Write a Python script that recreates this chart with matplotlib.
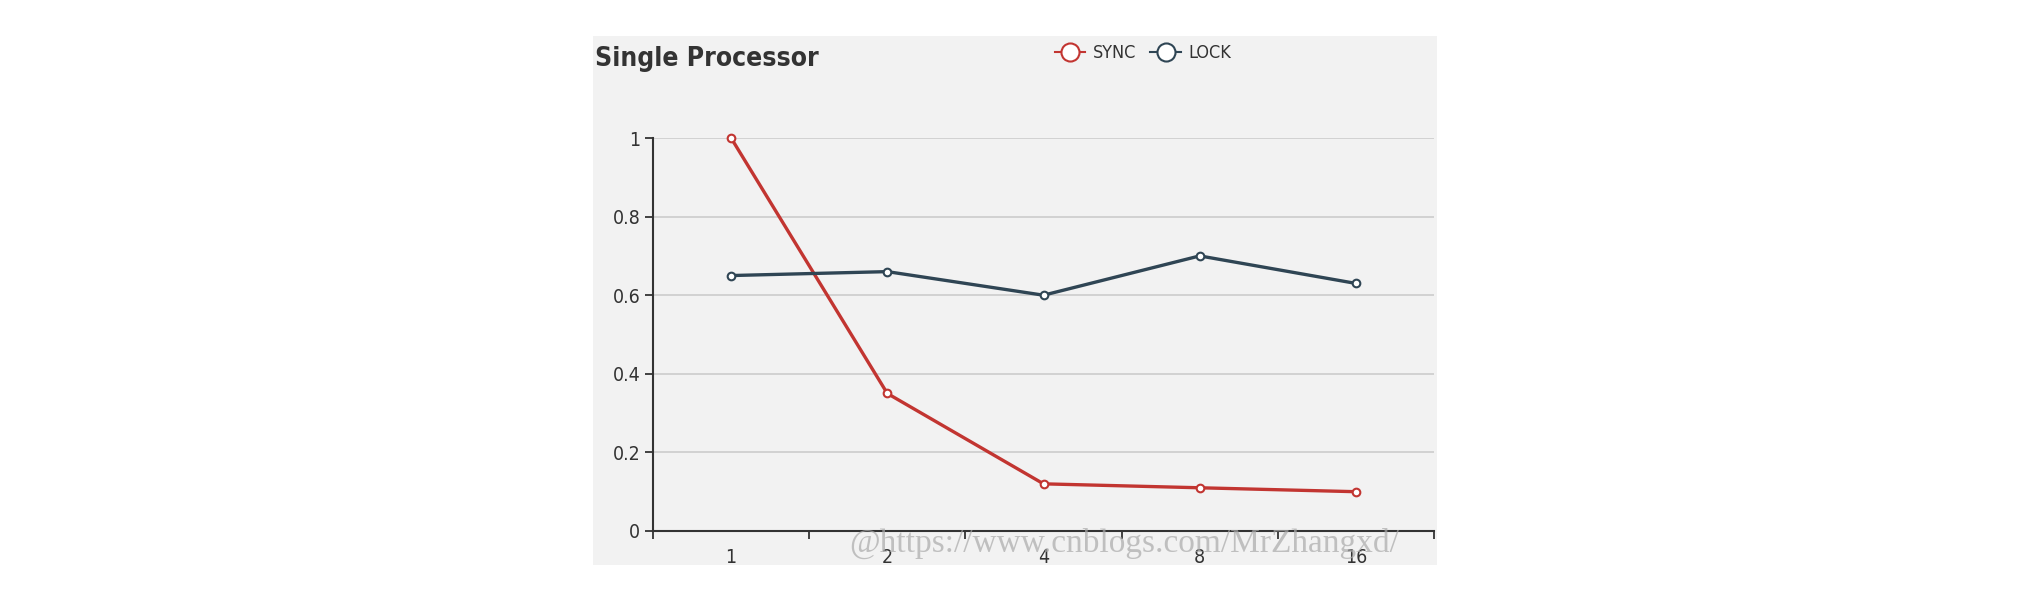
import matplotlib
matplotlib.use("Agg")
import matplotlib.pyplot as plt
from matplotlib.lines import Line2D

categories = ["1", "2", "4", "8", "16"]
sync_values = [1.0, 0.35, 0.12, 0.11, 0.10]
lock_values = [0.65, 0.66, 0.60, 0.70, 0.63]
y_ticks = [0, 0.2, 0.4, 0.6, 0.8, 1]
y_tick_labels = ["0", "0.2", "0.4", "0.6", "0.8", "1"]
title = "Single Processor"
watermark = "@https://www.cnblogs.com/MrZhangxd/"

W, H = 2036, 610
fig = plt.figure(figsize=(W / 100, H / 100), dpi=100)
fig.patch.set_facecolor("white")

FONT = dict(family="DejaVu Sans", stretch="condensed")

def fx(px):
    return px / W

def fy(py):
    return 1 - py / H

# panel background
bg = fig.add_axes([fx(593), fy(565), fx(1437) - fx(593), fy(36) - fy(565)], zorder=0)
bg.set_facecolor("#f2f2f2")
bg.set_xticks([]); bg.set_yticks([])
for s in bg.spines.values():
    s.set_visible(False)

ax = fig.add_axes([fx(653), fy(531), fx(1434) - fx(653), fy(138) - fy(531)], zorder=2)
ax.set_facecolor("none")
x = list(range(len(categories)))

sync_color = "#c23531"
lock_color = "#2f4554"

ax.plot(x, sync_values, color=sync_color, lw=2.4, marker="o", ms=5.5,
        mfc="white", mec=sync_color, mew=1.5, zorder=5, clip_on=False)
ax.plot(x, lock_values, color=lock_color, lw=2.4, marker="o", ms=5.5,
        mfc="white", mec=lock_color, mew=1.5, zorder=5, clip_on=False)

ax.set_xlim(-0.5, len(categories) - 0.5)
ax.set_ylim(0, 1)

ax.set_yticks(y_ticks)
ax.set_yticklabels(y_tick_labels)
for yv in y_ticks[1:]:
    ax.axhline(yv, color="#cccccc", lw=1.2, zorder=1)

ax.set_xticks([i - 0.5 for i in range(len(categories) + 1)])
ax.set_xticklabels([])
ax.set_xticks(x, minor=True)
ax.set_xticklabels(categories, minor=True)
ax.tick_params(axis="x", which="minor", length=0, pad=12, labelsize=14, colors="#333333")
ax.tick_params(axis="x", which="major", length=6, width=1.3, color="#333333", direction="out")
ax.tick_params(axis="y", length=6, width=1.3, color="#333333", direction="out",
               labelsize=14, labelcolor="#333333", pad=3)
for lab in ax.get_xticklabels(minor=True) + ax.get_yticklabels():
    lab.set_family(FONT["family"])
    lab.set_stretch(FONT["stretch"])

for s in ["top", "right"]:
    ax.spines[s].set_visible(False)
for s in ["left", "bottom"]:
    ax.spines[s].set_color("#333333")
    ax.spines[s].set_linewidth(1.5)

# title
fig.text(fx(595), fy(59), title, fontsize=19, fontweight="bold", color="#333333",
         family=FONT["family"], stretch=FONT["stretch"], ha="left", va="center", zorder=3)

# legend
handles = [
    Line2D([], [], color=sync_color, lw=1.5, marker="o", ms=13, mfc="white", mec=sync_color, mew=1.5),
    Line2D([], [], color=lock_color, lw=1.5, marker="o", ms=13, mfc="white", mec=lock_color, mew=1.5),
]
leg = fig.legend(handles, ["SYNC", "LOCK"], loc="center", bbox_to_anchor=(fx(1143), fy(53)),
                 ncol=2, frameon=False, handlelength=1.7, handletextpad=0.4,
                 columnspacing=0.8,
                 prop={"family": FONT["family"], "stretch": FONT["stretch"], "size": 13})
leg.set_zorder(3)
for t in leg.get_texts():
    t.set_color("#333333")

# watermark
fig.text(fx(1124), fy(543), watermark, fontsize=24, color="#aaaaaa", alpha=0.7,
         family=["Liberation Serif", "DejaVu Serif"], ha="center", va="center", zorder=10)

fig.savefig("out.png", dpi=100, facecolor="white")
